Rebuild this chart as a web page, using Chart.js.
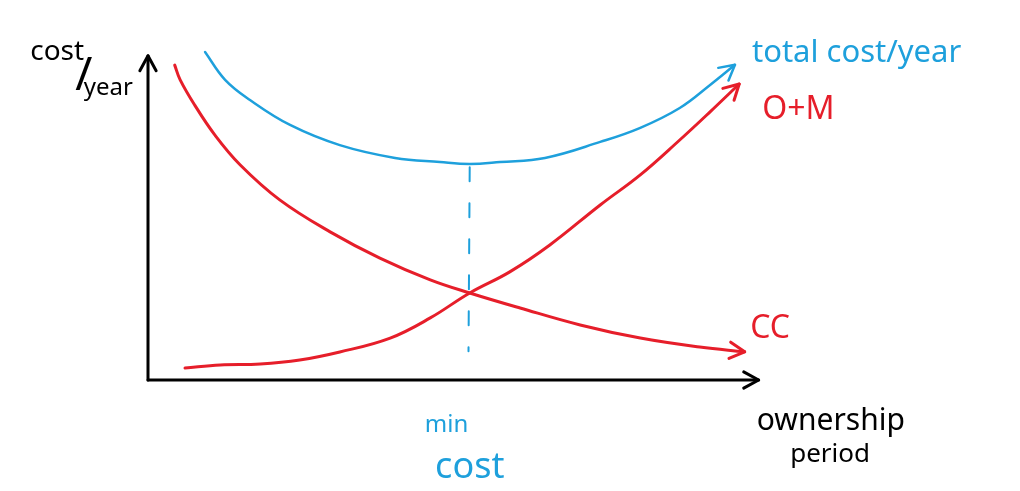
<!DOCTYPE html>
<html>
<head>
<meta charset="utf-8">
<script src="https://cdn.jsdelivr.net/npm/chart.js@4"></script>
<style>
  body { margin: 0; background: #fff; }
  canvas { display: block; }
</style>
</head>
<body>
<canvas id="sketch" width="1020" height="491"></canvas>
<script>
// Sketch values (x = ownership period, y = cost/year, arbitrary units 0..100)
const totalX = [9.4, 12.7, 16.8, 23.4, 31.6, 40.7, 48.1, 53.0, 58.0, 65.4, 74.5, 81.1, 87.6, 92.6, 96.7];
const totalY = [102.5, 93.8, 87.5, 79.7, 73.4, 69.4, 68.1, 67.5, 68.1, 69.4, 74.4, 78.8, 85.0, 92.2, 98.5];

const ccX = [4.4, 5.3, 7.7, 11.0, 15.2, 21.7, 30.0, 38.2, 46.5, 53.0, 61.3, 71.2, 81.1, 90.9, 98.3];
const ccY = [98.4, 93.8, 85.9, 76.6, 67.2, 56.3, 46.3, 38.1, 31.3, 27.2, 22.5, 17.2, 13.1, 10.3, 8.8];

const omX = [6.1, 11.9, 18.5, 25.0, 31.6, 39.9, 46.5, 53.0, 59.6, 66.2, 74.5, 81.1, 87.6, 92.6, 97.4];
const omY = [3.75, 4.7, 5.0, 6.25, 8.75, 13.1, 19.4, 27.2, 33.8, 42.2, 54.7, 64.1, 75.0, 83.8, 92.5];

// min cost guide line
const minX = [53.0, 52.8];
const minY = [66.5, 9.0];

// axes
const axisYX = [0, 0], axisYY = [0, 101.3];
const axisXX = [0, 100.6], axisXY = [0, 0];

const BLUE = '#1ea0dc';
const RED = '#e61e2a';
const BLACK = '#000000';

function pts(xs, ys) {
    return xs.map((x, i) => ({ x: x, y: ys[i] }));
}

// text notes, placed in data units
const notes = [
    { text: 'cost', x: -19.4, y: 100.0, color: BLACK, size: 28 },
    { text: '/', x: -12.0, y: 90.5, color: BLACK, size: 46 },
    { text: 'year', x: -10.6, y: 89.0, color: BLACK, size: 24 },
    { text: 'total cost/year', x: 99.5, y: 99.4, color: BLUE, size: 31 },
    { text: 'O+M', x: 101.2, y: 81.5, color: RED, size: 32 },
    { text: 'CC', x: 99.2, y: 13.1, color: RED, size: 32 },
    { text: 'ownership', x: 100.3, y: -15.6, color: BLACK, size: 30 },
    { text: 'period', x: 105.8, y: -25.6, color: BLACK, size: 26 },
    { text: 'min', x: 45.6, y: -16.3, color: BLUE, size: 24 },
    { text: 'cost', x: 47.3, y: -30.6, color: BLUE, size: 36 }
];

const arrowPlugin = {
    id: 'arrows',
    afterDatasetsDraw(chart) {
        const ctx = chart.ctx;
        chart.data.datasets.forEach((ds, i) => {
            if (!ds.arrow) return;
            const meta = chart.getDatasetMeta(i);
            const n = meta.data.length;
            const a = meta.data[n - 2], b = meta.data[n - 1];
            const ang = Math.atan2(b.y - a.y, b.x - a.x);
            const len = 17;
            ctx.save();
            ctx.strokeStyle = ds.borderColor;
            ctx.lineWidth = ds.borderWidth;
            ctx.lineCap = 'round';
            ctx.lineJoin = 'round';
            ctx.beginPath();
            ctx.moveTo(b.x - len * Math.cos(ang - 0.5), b.y - len * Math.sin(ang - 0.5));
            ctx.lineTo(b.x, b.y);
            ctx.lineTo(b.x - len * Math.cos(ang + 0.5), b.y - len * Math.sin(ang + 0.5));
            ctx.stroke();
            ctx.restore();
        });
    }
};

const notePlugin = {
    id: 'notes',
    afterDraw(chart) {
        const ctx = chart.ctx;
        const xs = chart.scales.x, ys = chart.scales.y;
        ctx.save();
        ctx.textBaseline = 'alphabetic';
        ctx.textAlign = 'left';
        notes.forEach(n => {
            ctx.font = n.size + 'px "Noto Sans"';
            ctx.fillStyle = n.color;
            ctx.fillText(n.text, xs.getPixelForValue(n.x), ys.getPixelForValue(n.y));
        });
        ctx.restore();
    }
};

function line(data, color, width, extra) {
    return Object.assign({
        data: data,
        borderColor: color,
        borderWidth: width,
        pointRadius: 0,
        showLine: true,
        fill: false,
        tension: 0.4,
        clip: false,
        borderCapStyle: 'round'
    }, extra || {});
}

new Chart(document.getElementById('sketch').getContext('2d'), {
    type: 'scatter',
    data: {
        datasets: [
            line(pts(axisYX, axisYY), BLACK, 3, { arrow: true, tension: 0 }),
            line(pts(axisXX, axisXY), BLACK, 3, { arrow: true, tension: 0 }),
            line(pts(minX, minY), BLUE, 2, { tension: 0, borderDash: [14, 22] }),
            line(pts(totalX, totalY), BLUE, 2.5, { arrow: true }),
            line(pts(ccX, ccY), RED, 3, { arrow: true }),
            line(pts(omX, omY), RED, 3, { arrow: true })
        ]
    },
    options: {
        responsive: false,
        animation: false,
        devicePixelRatio: 1,
        layout: { padding: { left: 148, right: 265, top: 60, bottom: 111 } },
        plugins: {
            legend: { display: false },
            tooltip: { enabled: false }
        },
        scales: {
            x: { type: 'linear', min: 0, max: 100, display: false },
            y: { type: 'linear', min: 0, max: 100, display: false }
        }
    },
    plugins: [arrowPlugin, notePlugin]
});
</script>
</body>
</html>
